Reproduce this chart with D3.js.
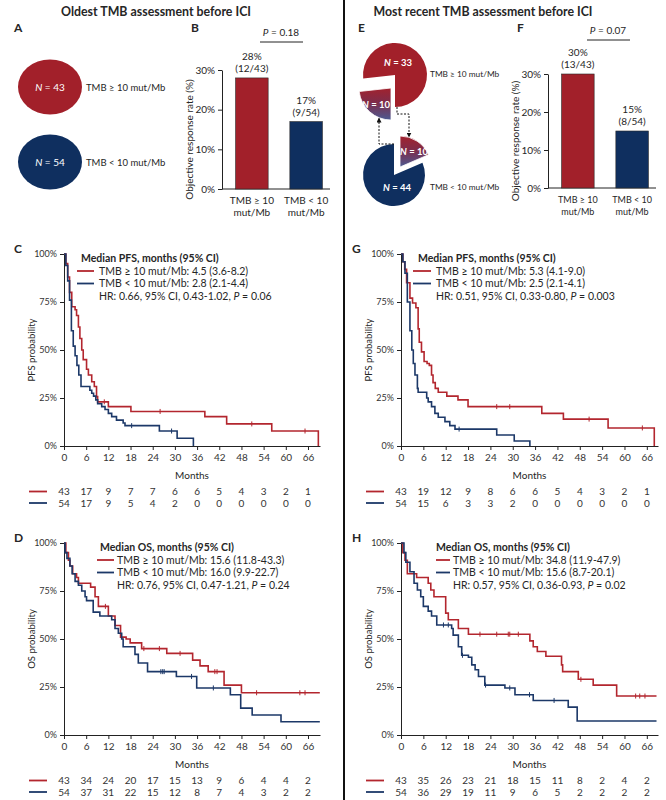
<!DOCTYPE html>
<html><head><meta charset="utf-8">
<script src="https://cdn.jsdelivr.net/npm/d3@7"></script>
<style>
body{margin:0;background:#fff;}
svg text{font-family:Lato,"Open Sans",sans-serif;fill:#262626;}
</style></head><body>
<svg id="c" width="666" height="800"></svg>
<script>
// ---------------- DATA ----------------
const panelTitles = ["Oldest TMB assessment before ICI", "Most recent TMB assessment before ICI"];
const groups = ["TMB ≥ 10 mut/Mb", "TMB < 10 mut/Mb"];
const groupAxisLines = [["TMB ≥ 10", "mut/Mb"], ["TMB < 10", "mut/Mb"]];
const oldestN = [43, 54];
const recentPieTop = [33, 10];     // TMB >=10 pie: stays, moves
const recentPieBottom = [10, 44];  // TMB <10 pie: moves, stays
const orrOldest = [28, 17];
const orrOldestFrac = ["(12/43)", "(9/54)"];
const orrRecent = [30, 15];
const orrRecentFrac = ["(13/43)", "(8/54)"];
const pOldest = "0.18", pRecent = "0.07";
const orrTicks = [0, 10, 20, 30];
const monthTicks = [0, 6, 12, 18, 24, 30, 36, 42, 48, 54, 60, 66];
const survTicks = [0, 0.25, 0.5, 0.75, 1];

// PFS, oldest (C)
const pfsOldHighT = [0,0.5,1.0,1.5,2.1,3.0,3.4,3.9,4.3,4.8,5.2,6.1,6.6,7.5,8.2,8.8,9.1,12.0,18.1,38.1,44.0,56.2,68.8];
const pfsOldHighS = [1,0.95,0.88,0.80,0.725,0.71,0.68,0.62,0.56,0.50,0.45,0.40,0.37,0.335,0.31,0.257,0.23,0.205,0.18,0.153,0.115,0.078,0];
const pfsOldHighCens = [10.9,26.0,50.8,65.2];
const pfsOldLowT = [0,0.5,1.0,1.5,2.0,2.5,3.0,3.5,4.0,4.6,7.0,7.5,8.0,8.6,9.1,10.2,11.1,12.0,12.9,14.2,16.0,16.5,25.8,30.6,35.0];
const pfsOldLowS = [1,0.94,0.86,0.76,0.60,0.52,0.47,0.42,0.37,0.31,0.29,0.275,0.26,0.24,0.22,0.205,0.19,0.17,0.153,0.135,0.12,0.106,0.078,0.04,0];
const pfsOldLowCens = [18.3,29.1];
const pfsOldRiskHigh = [43,17,9,7,7,6,6,5,4,3,2,1];
const pfsOldRiskLow = [54,17,9,5,4,2,0,0,0,0,0,0];
const pfsOldLegend = ["TMB ≥ 10 mut/Mb: 4.5 (3.6-8.2)", "TMB < 10 mut/Mb: 2.8 (2.1-4.4)"];
const pfsOldHR = ["HR: 0.66, 95% CI, 0.43-1.02, ", "P", " = 0.06"];

// PFS, most recent (G)
const pfsNewHighT = [0,0.5,1.0,1.5,2.4,3.1,4.0,4.6,4.9,5.5,6.2,7.0,7.6,8.2,8.6,9.2,10.0,12.3,15.3,18.0,37.8,43.6,55.6,68.0];
const pfsNewHighS = [1,0.96,0.92,0.85,0.77,0.745,0.72,0.61,0.54,0.49,0.44,0.43,0.42,0.37,0.33,0.30,0.28,0.26,0.24,0.205,0.17,0.14,0.094,0];
const pfsNewHighCens = [25.7,29.2,50.5,64.8];
const pfsNewLowT = [0,0.5,1.07,1.7,2.4,2.9,3.3,3.75,4.4,4.6,6.9,7.3,8.2,9.1,10.0,11.8,13.1,14.5,25.7,30.4,34.6];
const pfsNewLowS = [1,0.96,0.90,0.75,0.60,0.50,0.43,0.37,0.30,0.28,0.25,0.23,0.205,0.17,0.15,0.127,0.106,0.088,0.057,0.026,0];
const pfsNewLowCens = [15.6];
const pfsNewRiskHigh = [43,19,12,9,8,6,6,5,4,3,2,1];
const pfsNewRiskLow = [54,15,6,3,3,2,0,0,0,0,0,0];
const pfsNewLegend = ["TMB ≥ 10 mut/Mb: 5.3 (4.1-9.0)", "TMB < 10 mut/Mb: 2.5 (2.1-4.1)"];
const pfsNewHR = ["HR: 0.51, 95% CI, 0.33-0.80, ", "P", " = 0.003"];

// OS, oldest (D)
const osOldHighT = [0,0.5,1.2,1.6,2.35,3.4,3.9,7.2,8.4,9.3,12.0,13.8,15.3,16.8,17.9,21.0,27.8,34.8,36.8,39.0,43.3,48.0,69.2];
const osOldHighS = [1,0.95,0.91,0.88,0.84,0.82,0.79,0.77,0.72,0.67,0.62,0.57,0.51,0.50,0.48,0.45,0.425,0.39,0.36,0.33,0.26,0.22,0.22];
const osOldHighCens = [11.2,21.6,25.8,31.4,40.8,41.4,52.1,63.8,65.2];
const osOldLowT = [0,0.3,0.8,1.6,2.2,3.0,3.9,4.8,5.7,6.1,7.9,9.7,12.9,13.8,14.7,15.6,16.0,19.2,20.1,22.6,30.4,35.9,45.0,47.8,50.9,58.7,69.2];
const osOldLowS = [1,0.95,0.92,0.88,0.84,0.80,0.78,0.75,0.72,0.70,0.64,0.62,0.60,0.555,0.53,0.50,0.46,0.42,0.375,0.33,0.305,0.245,0.21,0.14,0.104,0.069,0.069];
const osOldLowCens = [26.2,26.7,27.1,34.5,40.4];
const osOldRiskHigh = [43,34,24,20,17,15,13,9,6,4,4,2];
const osOldRiskLow = [54,37,31,22,15,12,8,7,4,3,2,2];
const osOldLegend = ["TMB ≥ 10 mut/Mb: 15.6 (11.8-43.3)", "TMB < 10 mut/Mb: 16.0 (9.9-22.7)"];
const osOldHR = ["HR: 0.76, 95% CI, 0.47-1.21, ", "P", " = 0.24"];

// OS, most recent (H)
const osNewHighT = [0,0.5,1.07,1.7,4.2,7.3,8.0,8.85,12.0,12.7,15.4,18.1,34.6,35.5,36.6,38.9,43.1,43.4,47.6,51.6,57.9,68.6];
const osNewHighS = [1,0.95,0.91,0.84,0.82,0.79,0.755,0.72,0.635,0.60,0.555,0.525,0.49,0.46,0.435,0.41,0.365,0.33,0.29,0.26,0.203,0.203];
const osNewHighCens = [21.2,25.7,28.8,29.2,31.5,48.3,63.0,64.1,65.5];
const osNewLowT = [0,0.8,1.3,2.4,3.5,4.4,5.3,6.0,7.3,8.2,9.6,13.6,14.0,15.4,16.3,18.1,19.0,19.9,20.8,22.5,27.9,30.6,35.5,44.9,47.3,68.6];
const osNewLowS = [1,0.95,0.90,0.85,0.79,0.755,0.72,0.67,0.645,0.62,0.573,0.555,0.52,0.46,0.415,0.405,0.365,0.34,0.305,0.26,0.245,0.21,0.18,0.145,0.073,0.073];
const osNewLowCens = [11.4,12.7,16.5,22.7,29.2,34.5,41.1];
const osNewRiskHigh = [43,35,26,23,21,18,15,11,8,2,4,2];
const osNewRiskLow = [54,36,29,19,11,9,6,5,2,2,2,2];
const osNewLegend = ["TMB ≥ 10 mut/Mb: 34.8 (11.9-47.9)", "TMB < 10 mut/Mb: 15.6 (8.7-20.1)"];
const osNewHR = ["HR: 0.57, 95% CI, 0.36-0.93, ", "P", " = 0.02"];

// ---------------- DRAWING ----------------
const svg = d3.select("#c");
const RED = "#A2202A", BLUE = "#0F2F5F";
const KMRED = "#B3262E", KMBLUE = "#1C3868";
const FONT = 'Lato,"Open Sans",sans-serif';

function txt(g, x, y, s, size, opts = {}) {
  const t = g.append("text").attr("x", x).attr("y", y).style("font-size", size + "px").text(s);
  if (opts.anchor) t.attr("text-anchor", opts.anchor);
  if (opts.bold) t.style("font-weight", "bold");
  if (opts.fill) t.style("fill", opts.fill);
  return t;
}
function italicFirst(g, x, y, first, rest, size, opts = {}) {
  const t = g.append("text").attr("x", x).attr("y", y).style("font-size", size + "px");
  if (opts.anchor) t.attr("text-anchor", opts.anchor);
  if (opts.fill) t.style("fill", opts.fill);
  t.append("tspan").style("font-style", "italic").text(first);
  t.append("tspan").text(rest);
  return t;
}

// titles and divider
txt(svg, 156, 16, panelTitles[0], 12.5, {anchor: "middle", bold: true})
  .attr("textLength", 190).attr("lengthAdjust", "spacingAndGlyphs");
txt(svg, 483, 16, panelTitles[1], 12.5, {anchor: "middle", bold: true})
  .attr("textLength", 219).attr("lengthAdjust", "spacingAndGlyphs");
svg.append("line").attr("x1", 344).attr("x2", 344).attr("y1", 0).attr("y2", 800)
  .attr("stroke", "#111").attr("stroke-width", 2);

// panel letters
[["A",14,32],["B",191,32],["E",358,32],["F",517,32],["C",14,253],["D",14,542],["G",352,253],["H",352,542]]
  .forEach(([l,x,y]) => txt(svg, x, y, l, 12, {bold: true}));

// ---- Panel A ----
const aG = svg.append("g");
const aCy = [87, 162];
oldestN.forEach((n, i) => {
  aG.append("ellipse").attr("cx", 50).attr("cy", aCy[i]).attr("rx", 32).attr("ry", 27.5)
    .attr("fill", i === 0 ? RED : BLUE);
  italicFirst(aG, 50, aCy[i] + 3.5, "N", " = " + n, 10, {anchor: "middle", fill: "#fff"});
  txt(aG, 86, aCy[i] + 3.5, groups[i], 9.5);
});

// ---- Bar panels ----
function drawBars(cfg) {
  const g = svg.append("g");
  const y = d3.scaleLinear().domain([0, 30]).range([cfg.yB, cfg.yT]);
  const x = d3.scaleBand().domain(groups).range([cfg.xL, cfg.xL + 114]).paddingInner(0.4).paddingOuter(0.25);
  const ax = g.append("g").attr("transform", `translate(${cfg.xL},0)`)
    .call(d3.axisLeft(y).tickValues(orrTicks).tickFormat(d => d + "%").tickSize(4).tickSizeOuter(0).tickPadding(3));
  ax.selectAll("text").style("font-size", "10px").style("font-family", FONT).style("fill", "#262626");
  ax.selectAll("line,path").attr("stroke", "#222");
  g.append("line").attr("x1", cfg.xL).attr("x2", cfg.xL + 108).attr("y1", cfg.yB).attr("y2", cfg.yB).attr("stroke", "#222");
  cfg.vals.forEach((v, i) => {
    const gx = x(groups[i]);
    g.append("rect").attr("x", gx).attr("y", y(v)).attr("width", x.bandwidth()).attr("height", y(0) - y(v))
      .attr("fill", i === 0 ? RED : BLUE).attr("stroke", "#2a2a2a").attr("stroke-width", 0.6);
    const cx = gx + x.bandwidth() / 2;
    txt(g, cx, y(v) - 18, v + "%", 10, {anchor: "middle"});
    txt(g, cx, y(v) - 6, cfg.fracs[i], 10, {anchor: "middle"});
    txt(g, cx, cfg.yB + 15, groupAxisLines[i][0], cfg.xs, {anchor: "middle"});
    txt(g, cx, cfg.yB + 27, groupAxisLines[i][1], cfg.xs, {anchor: "middle"});
  });
  g.append("text").attr("transform", `translate(${cfg.xL - 29},${(cfg.yB + cfg.yT) / 2 + 10}) rotate(-90)`)
    .attr("text-anchor", "middle").style("font-size", "10px").text("Objective response rate (%)");
  italicFirst(g, cfg.pX, cfg.pY, "P", " = " + cfg.p, 10, {anchor: "middle"});
  g.append("line").attr("x1", cfg.pX - 21).attr("x2", cfg.pX + 22).attr("y1", cfg.pY + 6).attr("y2", cfg.pY + 6).attr("stroke", "#222");
}
drawBars({xL: 222, yB: 189, yT: 70, vals: orrOldest, fracs: orrOldestFrac, p: pOldest, pX: 281, pY: 36, xs: 10});
drawBars({xL: 548, yB: 188, yT: 74, vals: orrRecent, fracs: orrRecentFrac, p: pRecent, pX: 608, pY: 34, xs: 9});

// ---- Panel E (pies) ----
const eG = svg.append("g");
const defs = svg.append("defs");
const grad = defs.append("linearGradient").attr("id", "mix").attr("x1", 0).attr("y1", 0).attr("x2", 0).attr("y2", 1);
grad.append("stop").attr("offset", "0%").attr("stop-color", "#A2222E");
grad.append("stop").attr("offset", "45%").attr("stop-color", "#7E2C4A");
grad.append("stop").attr("offset", "100%").attr("stop-color", "#4C5A92");

function drawPie(cx, cy, r, vals, movedIdx, startA, colorStay, offset, labelStay, labelMoved) {
  const arcs = d3.pie().sort(null).startAngle(startA).endAngle(startA + 2 * Math.PI)(vals);
  const arc = d3.arc().innerRadius(0).outerRadius(r);
  arcs.forEach((a, i) => {
    const moved = i === movedIdx;
    const ox = moved ? offset[0] : 0, oy = moved ? offset[1] : 0;
    const gg = eG.append("g").attr("transform", `translate(${cx + ox},${cy + oy})`);
    gg.append("path").attr("d", arc(a)).attr("fill", moved ? "url(#mix)" : colorStay)
      .attr("stroke", "#fff").attr("stroke-width", moved ? 0.8 : 0);
    const lp = moved ? labelMoved : labelStay;
    italicFirst(gg, lp[0], lp[1], "N", " = " + a.data, 9.5, {anchor: "middle", fill: "#fff"}).style("font-weight", "bold");
  });
}
// top pie: TMB >= 10 (33 stay, 10 moved)
const topStart = Math.PI + 2 * Math.PI * recentPieTop[1] / d3.sum(recentPieTop) - 2 * Math.PI;
drawPie(395, 75, 32, recentPieTop, 1, topStart, RED, [-4, 13], [3, -9], [-15, 20]);
drawPie(394, 175, 31, recentPieBottom, 0, 0, BLUE, [6, -8], [3, 16], [14, -12]);
txt(eG, 430, 77, groups[0], 8.3);
txt(eG, 430, 190, groups[1], 8.3);
// dashed connectors
defs.append("marker").attr("id", "arr").attr("viewBox", "0 0 10 10").attr("refX", 9).attr("refY", 5)
  .attr("markerWidth", 5).attr("markerHeight", 5).attr("orient", "auto")
  .append("path").attr("d", "M0,0L10,5L0,10z").attr("fill", "#111");
const conn = d3.line();
eG.append("path").attr("d", conn([[397, 107], [397, 114], [409, 114], [409, 137]]))
  .attr("fill", "none").attr("stroke", "#111").attr("stroke-width", 1).attr("stroke-dasharray", "2,1.5").attr("marker-end", "url(#arr)");
eG.append("path").attr("d", conn([[394, 144], [379, 144], [379, 118]]))
  .attr("fill", "none").attr("stroke", "#111").attr("stroke-width", 1).attr("stroke-dasharray", "2,1.5").attr("marker-end", "url(#arr)");

// ---- KM panels ----
function drawKM(cfg) {
  const g = svg.append("g");
  const x = d3.scaleLinear().domain([0, cfg.xMax]).range([cfg.x0, cfg.x1]);
  const y = d3.scaleLinear().domain([0, 1]).range([cfg.yB, cfg.yT]);
  const xa = g.append("g").attr("transform", `translate(0,${cfg.yB})`)
    .call(d3.axisBottom(x).tickValues(monthTicks).tickSize(4).tickSizeOuter(0).tickPadding(4));
  const ya = g.append("g").attr("transform", `translate(${cfg.x0},0)`)
    .call(d3.axisLeft(y).tickValues(survTicks).tickFormat(d3.format(".0%")).tickSize(4).tickSizeOuter(0).tickPadding(3));
  [xa, ya].forEach(a => {
    a.selectAll("text").style("font-size", "9px").style("font-family", FONT).style("fill", "#333");
    a.selectAll("line,path").attr("stroke", "#222");
  });
  xa.selectAll("text").style("font-size", "10px");
  txt(g, (cfg.x0 + cfg.x1) / 2, cfg.yB + 33, "Months", 10, {anchor: "middle"});
  g.append("text").attr("transform", `translate(${cfg.x0 - 29},${(cfg.yB + cfg.yT) / 2}) rotate(-90)`)
    .attr("text-anchor", "middle").style("font-size", "9.5px").text(cfg.yTitle);

  const line = d3.line().curve(d3.curveStepAfter).x(d => x(d[0])).y(d => y(d[1]));
  cfg.series.forEach(s => {
    const pts = s.t.map((t, i) => [t, s.s[i]]);
    g.append("path").attr("d", line(pts)).attr("fill", "none").attr("stroke", s.color).attr("stroke-width", 1.6);
    s.cens.forEach(c => {
      let v = 1;
      s.t.forEach((t, i) => { if (t <= c) v = s.s[i]; });
      g.append("line").attr("x1", x(c)).attr("x2", x(c)).attr("y1", y(v) - 2.5).attr("y2", y(v) + 2.5)
        .attr("stroke", s.color).attr("stroke-width", 1);
    });
  });
  // legend
  const L = cfg.leg;
  txt(g, L.tx, L.y, cfg.legTitle, 10.5, {bold: true});
  cfg.series.forEach((s, i) => {
    const yy = L.y + 12.5 * (i + 1);
    g.append("line").attr("x1", L.lx0).attr("x2", L.lx1).attr("y1", yy - 3.5).attr("y2", yy - 3.5)
      .attr("stroke", s.color).attr("stroke-width", 1.8);
    txt(g, L.x, yy, cfg.legend[i], 10.5);
  });
  const hr = g.append("text").attr("x", L.x).attr("y", L.y + 37.5).style("font-size", "10.5px");
  hr.append("tspan").text(cfg.hr[0]);
  hr.append("tspan").style("font-style", "italic").text(cfg.hr[1]);
  hr.append("tspan").text(cfg.hr[2]);
  // risk table
  cfg.series.forEach((s, i) => {
    const yy = cfg.yB + 49 + 11.5 * i;
    g.append("line").attr("x1", cfg.rx0).attr("x2", cfg.rx0 + 18).attr("y1", yy - 3.5).attr("y2", yy - 3.5)
      .attr("stroke", s.color).attr("stroke-width", 1.8);
    s.risk.forEach((n, j) => txt(g, x(monthTicks[j]), yy, n, 10, {anchor: "middle", fill: "#333"}));
  });
}

drawKM({x0: 64, x1: 320, xMax: 69.25, yT: 254, yB: 446, yTitle: "PFS probability",
  legTitle: "Median PFS, months (95% CI)", legend: pfsOldLegend, hr: pfsOldHR,
  leg: {tx: 81, x: 99, lx0: 77, lx1: 94, y: 262}, rx0: 29,
  series: [
    {t: pfsOldHighT, s: pfsOldHighS, cens: pfsOldHighCens, color: KMRED, risk: pfsOldRiskHigh},
    {t: pfsOldLowT, s: pfsOldLowS, cens: pfsOldLowCens, color: KMBLUE, risk: pfsOldRiskLow}]});
drawKM({x0: 401, x1: 658, xMax: 69, yT: 254, yB: 446, yTitle: "PFS probability",
  legTitle: "Median PFS, months (95% CI)", legend: pfsNewLegend, hr: pfsNewHR,
  leg: {tx: 418, x: 436, lx0: 413, lx1: 431, y: 262}, rx0: 366,
  series: [
    {t: pfsNewHighT, s: pfsNewHighS, cens: pfsNewHighCens, color: KMRED, risk: pfsNewRiskHigh},
    {t: pfsNewLowT, s: pfsNewLowS, cens: pfsNewLowCens, color: KMBLUE, risk: pfsNewRiskLow}]});
drawKM({x0: 64, x1: 320, xMax: 69.25, yT: 543, yB: 735, yTitle: "OS probability",
  legTitle: "Median OS, months (95% CI)", legend: osOldLegend, hr: osOldHR,
  leg: {tx: 100, x: 117, lx0: 97, lx1: 114, y: 551}, rx0: 29,
  series: [
    {t: osOldHighT, s: osOldHighS, cens: osOldHighCens, color: KMRED, risk: osOldRiskHigh},
    {t: osOldLowT, s: osOldLowS, cens: osOldLowCens, color: KMBLUE, risk: osOldRiskLow}]});
drawKM({x0: 401, x1: 658, xMax: 69, yT: 543, yB: 735, yTitle: "OS probability",
  legTitle: "Median OS, months (95% CI)", legend: osNewLegend, hr: osNewHR,
  leg: {tx: 436, x: 453, lx0: 436, lx1: 450, y: 551}, rx0: 366,
  series: [
    {t: osNewHighT, s: osNewHighS, cens: osNewHighCens, color: KMRED, risk: osNewRiskHigh},
    {t: osNewLowT, s: osNewLowS, cens: osNewLowCens, color: KMBLUE, risk: osNewRiskLow}]});
</script>
</body></html>
